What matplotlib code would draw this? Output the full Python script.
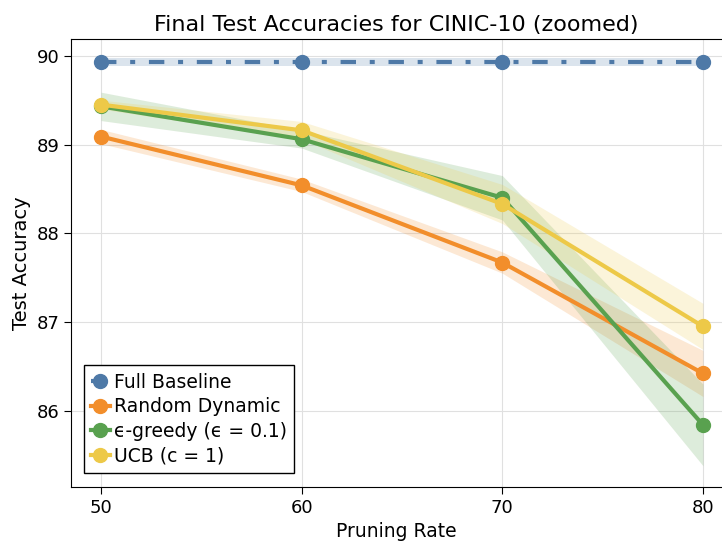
import numpy as np
import matplotlib
matplotlib.use('Agg')
import matplotlib.pyplot as plt

rates = [50, 60, 70, 80]

baseline = [89.93, 89.93, 89.93, 89.93]
baseline_std = [0.04, 0.04, 0.04, 0.04]
random_dyn = [89.09, 88.54, 87.67, 86.42]
random_std = [0.08, 0.07, 0.12, 0.26]
greedy = [89.43, 89.06, 88.40, 85.84]
greedy_std = [0.16, 0.10, 0.25, 0.46]
ucb = [89.45, 89.16, 88.33, 86.95]
ucb_std = [0.05, 0.10, 0.22, 0.26]

series = [
    ('Full Baseline', baseline, baseline_std, '#4e79a7', (0, (3.7, 3.3, 1.2, 3.3))),
    ('Random Dynamic', random_dyn, random_std, '#f28e2b', '-'),
    ('ϵ-greedy (ϵ = 0.1)', greedy, greedy_std, '#59a14f', '-'),
    ('UCB (c = 1)', ucb, ucb_std, '#edc948', '-'),
]

fig = plt.figure(figsize=(7.22, 5.42), dpi=100)
ax = fig.add_axes([0.0983, 0.1015, 0.9017, 0.8266])

for name, vals, std, color, ls in series:
    vals = np.array(vals)
    std = np.array(std)
    ax.fill_between(rates, vals - std, vals + std, color=color, alpha=0.2, linewidth=0)
    ax.plot(rates, vals, linestyle=ls, color=color, linewidth=3, marker='o',
            markersize=10, label=name)

ax.set_xlim(48.5, 80.95)
ax.set_ylim(85.14, 90.19)
ax.set_xticks(rates)
ax.set_yticks([86, 87, 88, 89, 90])
ax.grid(True, color='#e0e0e0', linewidth=0.8)
ax.set_axisbelow(True)
ax.spines['right'].set_visible(False)
ax.tick_params(labelsize=13, direction='out', length=5)

ax.set_title('Final Test Accuracies for CINIC-10 (zoomed)', fontsize=16)
ax.set_xlabel('Pruning Rate', fontsize=13.5)
ax.set_ylabel('Test Accuracy', fontsize=14)

leg = ax.legend(loc='lower left', fontsize=13.5, handlelength=1.0, handletextpad=0.2,
                fancybox=False, framealpha=1, borderpad=0.4, labelspacing=0.3,
                bbox_to_anchor=(0.005, 0.01))
leg.get_frame().set_edgecolor('black')

fig.savefig('out.png', dpi=100)
